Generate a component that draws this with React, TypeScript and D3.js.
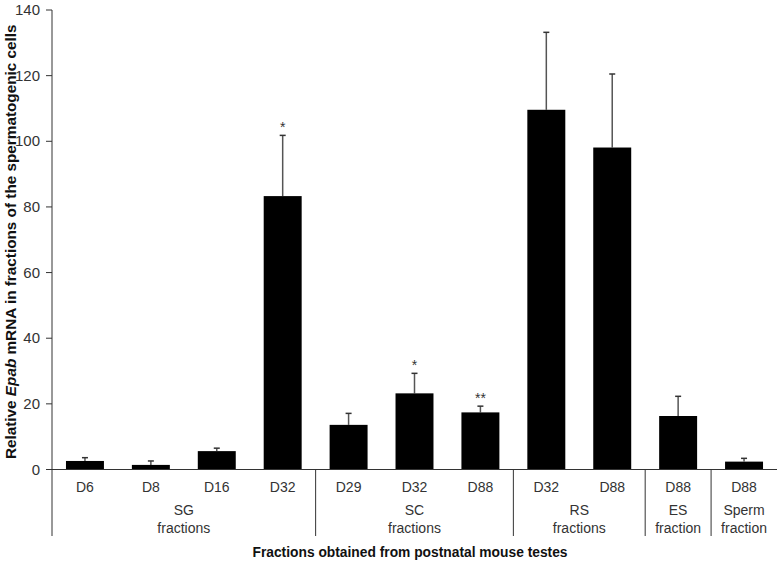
import { useMemo } from "react";
import { scaleBand, scaleLinear } from "d3";

const WIDTH = 780;
const HEIGHT = 563;
const MARGIN = { top: 10, right: 3, bottom: 93.5, left: 52 };

const categories = ["D6", "D8", "D16", "D32", "D29", "D32", "D88", "D32", "D88", "D88", "D88"];
const means = [2.6, 1.4, 5.6, 83.3, 13.6, 23.2, 17.4, 109.6, 98.1, 16.3, 2.4];
const errors = [1.0, 1.2, 0.9, 18.5, 3.5, 6.1, 1.9, 23.6, 22.4, 6.0, 1.0];
const stars = ["", "", "", "*", "", "*", "**", "", "", "", ""];
const groupLabels = [["SG", "fractions"], ["SC", "fractions"], ["RS", "fractions"], ["ES", "fraction"], ["Sperm", "fraction"]];
const groupSizes = [4, 3, 2, 1, 1];
const yTicks = [0, 20, 40, 60, 80, 100, 120, 140];

const FONT = "'Liberation Sans', Arial, sans-serif";

export default function App() {
  const innerW = WIDTH - MARGIN.left - MARGIN.right;
  const innerH = HEIGHT - MARGIN.top - MARGIN.bottom;
  const ids = categories.map((_, i) => String(i));

  const x = useMemo(
    () => scaleBand().domain(ids).range([MARGIN.left, MARGIN.left + innerW]).paddingInner(0.424).paddingOuter(0.212),
    []
  );
  const y = useMemo(() => scaleLinear().domain([0, 140]).range([MARGIN.top + innerH, MARGIN.top]), []);

  const step = x.step();
  const start = MARGIN.left;
  const base = y(0);

  let offset = 0;
  const groups = groupSizes.map((size, g) => {
    const from = start + offset * step;
    offset += size;
    const to = start + offset * step;
    return { from, to, label: groupLabels[g] };
  });

  return (
    <svg width={WIDTH} height={HEIGHT} style={{ position: "absolute", left: 0, top: 0, background: "#fff" }} fontFamily={FONT}>
      {/* y axis */}
      <line x1={start} x2={start} y1={y(140)} y2={base} stroke="#333" strokeWidth={1} />
      {yTicks.map((t) => (
        <g key={t}>
          <line x1={start - 6} x2={start} y1={y(t)} y2={y(t)} stroke="#333" />
          <text x={40} y={y(t) + 5} textAnchor="end" fontSize={15} fill="#333">
            {t}
          </text>
        </g>
      ))}
      <text
        transform={`translate(15.5,${(y(0) + y(140)) / 2 + 2}) rotate(-90)`}
        textAnchor="middle"
        fontSize={15.3}
        fontWeight="bold"
        fill="#111"
      >
        Relative <tspan fontStyle="italic">Epab</tspan> mRNA in fractions of the spermatogenic cells
      </text>

      {/* bars */}
      {means.map((m, i) => {
        const bx = x(String(i)) ?? 0;
        const cx = bx + x.bandwidth() / 2;
        const top = y(m + errors[i]);
        return (
          <g key={i}>
            <line x1={cx} x2={cx} y1={y(m)} y2={top} stroke="#555" strokeWidth={1.5} />
            <line x1={cx - 3} x2={cx + 3} y1={top} y2={top} stroke="#333" strokeWidth={1.5} />
            <rect x={bx} y={y(m)} width={x.bandwidth()} height={base - y(m)} fill="#000" />
            {stars[i] && (
              <text x={cx} y={top - 3} textAnchor="middle" fontSize={14} fill="#333">
                {stars[i]}
              </text>
            )}
            <text x={cx} y={492} textAnchor="middle" fontSize={14} fill="#333">
              {categories[i]}
            </text>
          </g>
        );
      })}

      {/* x axis and group separators */}
      <line x1={start} x2={start + categories.length * step} y1={base} y2={base} stroke="#333" />
      {groups.map((g, i) => (
        <g key={i}>
          <line x1={g.from} x2={g.from} y1={base} y2={536} stroke="#333" />
          <text x={(g.from + g.to) / 2} y={515} textAnchor="middle" fontSize={14} fill="#333">
            {g.label[0]}
          </text>
          <text x={(g.from + g.to) / 2} y={533} textAnchor="middle" fontSize={14} fill="#333">
            {g.label[1]}
          </text>
        </g>
      ))}
      <text x={410} y={557} textAnchor="middle" fontSize={13.8} fontWeight="bold" fill="#111">
        Fractions obtained from postnatal mouse testes
      </text>
    </svg>
  );
}
